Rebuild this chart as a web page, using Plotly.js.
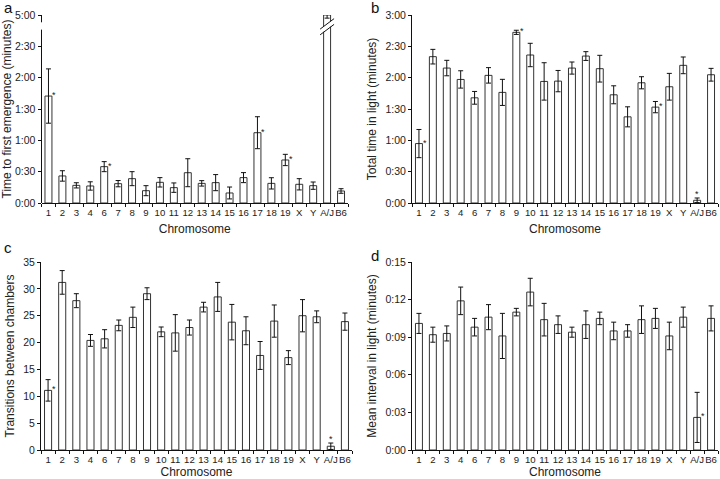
<!DOCTYPE html>
<html><head><meta charset="utf-8">
<script src="https://cdn.plot.ly/plotly-3.0.1.min.js"></script>
<style>html,body{margin:0;padding:0;background:#fff}#chart{width:720px;height:479px}</style>
</head><body><div id="chart"></div>
<script>
const chromosomes = ['1','2','3','4','6','7','8','9','10','11','12','13','14','15','16','17','18','19','X','Y','A/J','B6'];

// a: time to first emergence (seconds)
const emergenceMean = [102.4,25.9,16.9,16.3,34.8,18.5,23.3,11.8,19.8,14.7,29.0,18.8,19.5,9.6,24.3,67.3,18.8,41.2,17.9,16.6,300,11.5];
const emergenceSE   = [26,5,2.5,4,4.8,3,6.7,4.8,4.5,4.5,13.4,2.6,7.7,5.7,4.8,15.3,5.4,5.4,5.4,3.5,3,2.2];
const emergenceSig  = ['1','6','17','19'];

// b: total time in light (seconds)
const lightMean = [56.9,140.1,129.2,118.3,100.7,122.2,105.9,163.4,141.7,116.4,116.7,129.2,140.7,128.6,103.6,82.5,115.1,91.8,111.3,131.8,2.6,122.8];
const lightSE   = [13.5,7,7.4,8.3,6.1,7.4,12.5,2,11.2,17.9,10.2,5.8,4.2,12.8,8.6,9.6,5.8,5.4,12.8,8,2.2,6.1];
const lightSig  = ['1','9','19'];
const lightSigAbove = ['A/J'];

// c: transitions between chambers
const transMean = [11.1,31.2,27.8,20.4,20.7,23.2,24.7,29.1,22.0,21.8,22.8,26.6,28.5,23.8,22.2,17.6,24.0,17.2,25.0,24.8,0.7,23.9];
const transSE   = [2,2.2,1.3,1.1,1.7,1,1.9,1.1,0.9,3.4,1.4,0.9,2.7,3.3,2.6,2.6,3,1.3,3,1.1,0.6,1.6];
const transSig  = ['1'];
const transSigAbove = ['A/J'];

// d: mean interval in light (seconds)
const intervalMean = [10.1,9.2,9.3,11.9,9.8,10.6,9.1,11.0,12.6,10.4,10.0,9.4,10.0,10.5,9.5,9.5,10.4,10.5,9.1,10.6,2.6,10.5];
const intervalSE   = [0.8,0.6,0.6,1.1,0.7,1.0,1.8,0.3,1.1,1.3,0.7,0.4,1.1,0.5,0.7,0.5,1.1,0.8,1.1,0.8,2.0,1.0];
const intervalSig  = ['A/J'];

// tick labels
const timeTicksA = [0,30,60,90,120,150,180];
const timeTextA  = ['0:00','0:30','1:00','1:30','2:00','2:30','5:00'];
const timeTicksB = [0,30,60,90,120,150,180];
const timeTextB  = ['0:00','0:30','1:00','1:30','2:00','2:30','3:00'];
const countTicks = [0,5,10,15,20,25,30,35];
const intTicks   = [0,3,6,9,12,15];
const intText    = ['0:00','0:03','0:06','0:09','0:12','0:15'];

// axis break for panel a: values above the break are drawn relative to the 5:00 tick
const breakTop = 300, breakPos = 180;
const mapA = v => v > 170 ? breakPos + (v - breakTop) : v;

const W = 720, H = 479;
const px = x => x / W, py = y => 1 - y / H;
const TXT = '#222';
const FONT = 'Liberation Sans, Arial, sans-serif';

function barTrace(means, se, xa, ya, mapper) {
  const m = mapper ? means.map(mapper) : means;
  return {
    type: 'bar', x: chromosomes, y: m, xaxis: xa, yaxis: ya,
    marker: {color: '#fff', line: {color: '#333', width: 1}},
    error_y: {type: 'data', array: se, visible: true, color: '#111', thickness: 1, width: 2.5},
    hoverinfo: 'none', showlegend: false
  };
}

const data = [
  barTrace(emergenceMean, emergenceSE, 'x', 'y', mapA),
  barTrace(lightMean, lightSE, 'x2', 'y2'),
  barTrace(transMean, transSE, 'x3', 'y3'),
  barTrace(intervalMean, intervalSE, 'x4', 'y4')
];

function xAxis(d0, d1, anchor, standoff) {
  return {
    type: 'category', domain: [px(d0), px(d1)], anchor: anchor, range: [-0.5, chromosomes.length - 0.5],
    showline: true, linecolor: '#111', linewidth: 1, ticks: 'outside', ticklen: 3, tickcolor: '#111',
    tickson: 'boundaries', showgrid: false, zeroline: false, tickangle: 0,
    tickfont: {family: FONT, size: 9.6, color: TXT}, fixedrange: true,
    title: {text: 'Chromosome', font: {family: FONT, size: 12, color: TXT}, standoff: standoff}
  };
}
function yAxis(top, bottom, anchor, range, tv, tt, title, showline) {
  return {
    domain: [py(bottom), py(top)], anchor: anchor, range: range,
    tickvals: tv, ticktext: tt, showline: showline, linecolor: '#111', linewidth: 1,
    ticks: 'outside', ticklen: 3, tickcolor: '#111', showgrid: false, zeroline: false,
    tickfont: {family: FONT, size: 10.5, color: TXT}, fixedrange: true,
    title: {text: title, font: {family: FONT, size: 12, color: TXT}, standoff: 6}
  };
}

const layout = {
  width: W, height: H, margin: {l: 0, r: 0, t: 0, b: 0},
  paper_bgcolor: '#fff', plot_bgcolor: 'rgba(0,0,0,0)', bargap: 0.5,
  xaxis:  xAxis(41.5, 348, 'y', 8),
  yaxis:  yAxis(15, 203, 'x', [0, 180], timeTicksA, timeTextA, 'Time to first emergence (minutes)', false),
  xaxis2: xAxis(412, 718, 'y2', 8),
  yaxis2: yAxis(15, 203, 'x2', [0, 180], timeTicksB, timeTextB, 'Total time in light (minutes)', true),
  xaxis3: xAxis(41, 352, 'y3', 6),
  yaxis3: yAxis(262, 450, 'x3', [0, 35], countTicks, countTicks.map(String), 'Transitions between chambers', true),
  xaxis4: xAxis(412, 718, 'y4', 6),
  yaxis4: yAxis(262, 450, 'x4', [0, 15], intTicks, intText, 'Mean interval in light (minutes)', true),
  shapes: [], annotations: []
};

// panel a broken y axis line
layout.shapes.push({type: 'line', xref: 'x domain', yref: 'y', x0: 0, x1: 0, y0: 0, y1: 166, line: {color: '#111', width: 1}});
layout.shapes.push({type: 'line', xref: 'x domain', yref: 'y', x0: 0, x1: 0, y0: 173, y1: 180, line: {color: '#111', width: 1}});
// break marks on A/J bar
const ajIdx = chromosomes.indexOf('A/J');
layout.shapes.push({type: 'path', xref: 'x', yref: 'y', path: `M ${ajIdx-0.45} 162 L ${ajIdx+0.45} 171 L ${ajIdx+0.45} 176 L ${ajIdx-0.45} 167 Z`, fillcolor: '#fff', line: {width: 0}});
layout.shapes.push({type: 'line', xref: 'x', yref: 'y', x0: ajIdx-0.5, x1: ajIdx+0.5, y0: 161, y1: 171, line: {color: '#111', width: 1}});
layout.shapes.push({type: 'line', xref: 'x', yref: 'y', x0: ajIdx-0.5, x1: ajIdx+0.5, y0: 166.5, y1: 176.5, line: {color: '#111', width: 1}});

// significance asterisks (x given as category index)
function stars(sig, means, xa, ya, mapper, above, se) {
  sig.forEach(c => {
    const i = chromosomes.indexOf(c);
    const v = mapper ? mapper(means[i]) : means[i];
    if (above) {
      layout.annotations.push({xref: xa, yref: ya, x: i, y: v + se[i], text: '*', showarrow: false,
        yshift: 4, font: {family: FONT, size: 9, color: TXT}});
    } else {
      layout.annotations.push({xref: xa, yref: ya, x: i, y: v, text: '*', showarrow: false,
        xshift: 6, yshift: 1, font: {family: FONT, size: 9, color: TXT}});
    }
  });
}
stars(emergenceSig, emergenceMean, 'x', 'y', mapA, false);
stars(lightSig, lightMean, 'x2', 'y2', null, false);
stars(lightSigAbove, lightMean, 'x2', 'y2', null, true, lightSE);
stars(transSig, transMean, 'x3', 'y3', null, false);
stars(transSigAbove, transMean, 'x3', 'y3', null, true, transSE);
stars(intervalSig, intervalMean, 'x4', 'y4', null, false);

// panel letters
[['a', 8, 8], ['b', 375, 8], ['c', 8, 247], ['d', 375, 256]].forEach(([t, x, y]) => {
  layout.annotations.push({xref: 'paper', yref: 'paper', x: px(x), y: py(y), xanchor: 'center', yanchor: 'middle',
    text: t, showarrow: false, font: {family: FONT, size: 15, color: '#111'}});
});

Plotly.newPlot('chart', data, layout, {displayModeBar: false, staticPlot: true});
</script></body></html>
